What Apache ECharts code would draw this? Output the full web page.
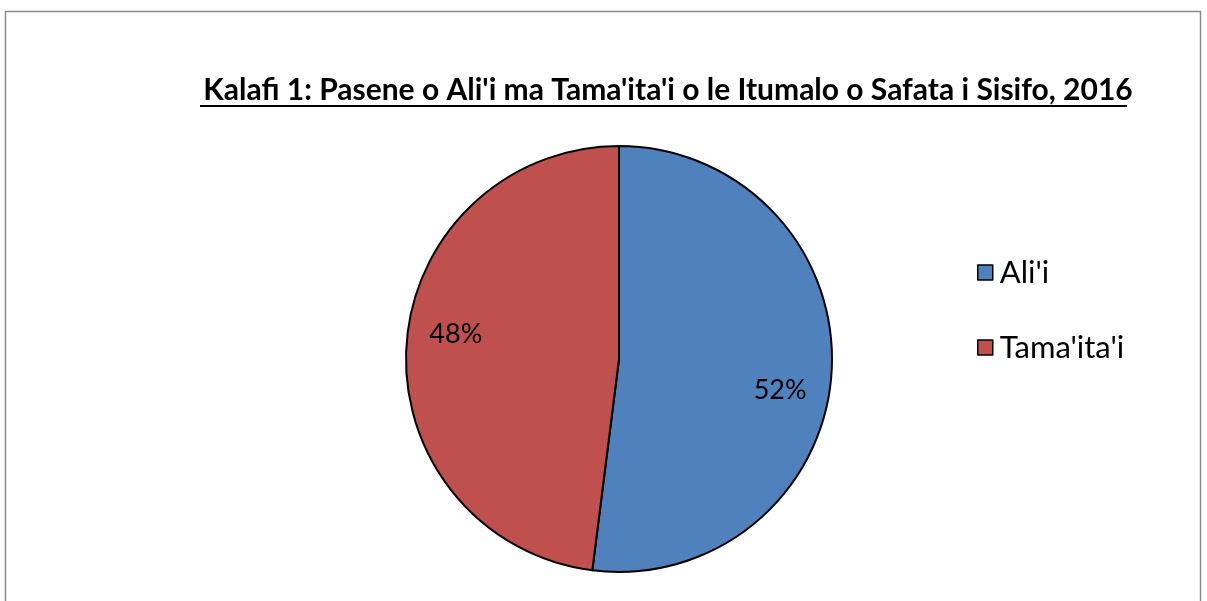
<!DOCTYPE html>
<html>
<head>
<meta charset="utf-8">
<script src="https://cdn.jsdelivr.net/npm/echarts@6/dist/echarts.min.js"></script>
<style>
  html, body { margin: 0; padding: 0; background: #fff; }
  #chart { width: 1207px; height: 601px; }
</style>
</head>
<body>
<div id="chart"></div>
<script>
// data
var categories = ["Ali'i", "Tama'ita'i"];
var shares = [52, 48];
var colors = ["#4F81BD", "#C0504D"];
var titleText = "Kalafi 1: Pasene o Ali'i ma Tama'ita'i o le Itumalo o Safata i Sisifo, 2016";

var pieData = [];
for (var i = 0; i < categories.length; i++) {
  pieData.push({ name: categories[i], value: shares[i], itemStyle: { color: colors[i] } });
}

var font = "Lato, sans-serif";
var myChart = echarts.init(document.getElementById("chart"));

// small nudges so the percent labels sit where the reference has them
var labelNudge = [[-8, 21], [6, -14]];

var option = {
  backgroundColor: "#fff",
  animation: false,
  title: {
    text: titleText,
    left: 663,
    textAlign: "center",
    top: 70,
    textStyle: { fontFamily: font, fontSize: 30, fontWeight: "bold", color: "#000" }
  },
  legend: {
    orient: "vertical",
    left: 972,
    top: 252,
    itemWidth: 15,
    itemHeight: 15,
    itemGap: 44,
    icon: "rect",
    data: categories,
    textStyle: { fontFamily: font, fontSize: 31, color: "#000", padding: [0, 0, 0, 2] },
    itemStyle: { borderColor: "#000", borderWidth: 1.5 }
  },
  graphic: [
    // chart frame
    { type: "rect", shape: { x: 5.5, y: 11.5, width: 1195, height: 620 },
      style: { fill: "none", stroke: "#8c8c8c", lineWidth: 1.5 }, silent: true },
    // underline of the title
    { type: "rect", shape: { x: 200, y: 105, width: 927, height: 2 },
      style: { fill: "#000" }, silent: true }
  ],
  series: [
    {
      type: "pie",
      center: [619, 359],
      radius: 213,
      startAngle: 90,
      clockwise: true,
      data: pieData,
      label: { show: false },
      labelLine: { show: false },
      itemStyle: { borderColor: "#000", borderWidth: 2 },
      emphasis: { disabled: true }
    },
    {
      // transparent ring only used to place the percent labels further out
      type: "pie",
      center: [619, 359],
      radius: [120, 213],
      startAngle: 90,
      clockwise: true,
      silent: true,
      data: pieData.map(function (d) { return { name: d.name, value: d.value }; }),
      itemStyle: { color: "transparent", borderWidth: 0 },
      label: {
        show: true,
        position: "inside",
        formatter: function (p) { return p.value + "%"; },
        fontFamily: font,
        fontSize: 27,
        color: "#000"
      },
      labelLayout: function (p) {
        return { dx: labelNudge[p.dataIndex][0], dy: labelNudge[p.dataIndex][1] };
      },
      labelLine: { show: false },
      emphasis: { disabled: true }
    }
  ]
};
myChart.setOption(option);
</script>
</body>
</html>
